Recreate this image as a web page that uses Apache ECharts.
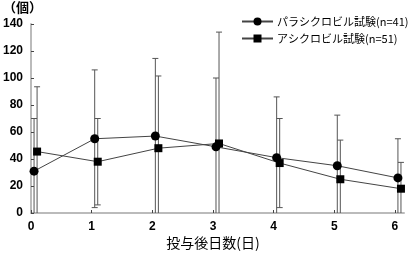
<!DOCTYPE html>
<html>
<head>
<meta charset="utf-8">
<script src="https://cdn.jsdelivr.net/npm/echarts@6/dist/echarts.min.js"></script>
<style>html,body{margin:0;padding:0;background:#fff}#c{width:410px;height:254px}</style>
</head>
<body>
<div id="c"></div>
<script>
var days = [0, 1, 2, 3, 4, 5, 6];
var xTickLabels = ['0', '1', '2', '3', '4', '5', '6'];
var yTickLabels = ['0', '20', '40', '60', '80', '100', '120', '140'];
var seriesNames = ['パラシクロビル試験(n=41)', 'アシクロビル試験(n=51)'];
var paraMean = [31, 55, 57, 49, 41, 35, 26];
var paraSD = [39, 51, 57.5, 51, 45, 37.5, 29];
var acvMean = [45.5, 38, 48, 51.5, 37, 25, 18];
var acvSD = [48, 32, 53.5, 82.5, 33, 29, 19.5];

var OFF_PARA = 0.05, OFF_ACV = 0.1;

function pts(mean, off) {
  return days.map(function (d, i) { return [d + off, mean[i]]; });
}
function errData(mean, sd, off) {
  return days.map(function (d, i) { return [d + off, mean[i], sd[i]]; });
}
function errRender(color) {
  return function (params, api) {
    var x = api.value(0), m = api.value(1), s = api.value(2);
    var hi = m + s, lo = Math.max(m - s, 0);
    var pHi = api.coord([x, hi]), pLo = api.coord([x, lo]);
    var half = 3;
    var children = [
      { type: 'line', shape: { x1: pHi[0], y1: pHi[1], x2: pLo[0], y2: pLo[1] }, style: { stroke: color, lineWidth: 1 } },
      { type: 'line', shape: { x1: pHi[0] - half, y1: pHi[1], x2: pHi[0] + half, y2: pHi[1] }, style: { stroke: color, lineWidth: 1 } }
    ];
    if (m - s > 0) {
      children.push({ type: 'line', shape: { x1: pLo[0] - half, y1: pLo[1], x2: pLo[0] + half, y2: pLo[1] }, style: { stroke: color, lineWidth: 1 } });
    }
    return { type: 'group', children: children };
  };
}

var chart = echarts.init(document.getElementById('c'), null, { renderer: 'canvas' });
chart.setOption({
  animation: false,
  backgroundColor: '#fff',
  grid: { left: 29, right: 6, top: 24, bottom: 41, containLabel: false },
  xAxis: {
    type: 'value', min: 0, max: 6.15, interval: 1,
    axisLine: { show: true, lineStyle: { color: '#bbb', width: 2 } },
    axisTick: { show: true, inside: true, length: 3, lineStyle: { color: '#444' } },
    axisLabel: {
      margin: 8, color: '#000', fontSize: 12, fontWeight: 'bold', fontFamily: 'Liberation Sans',
      showMaxLabel: false,
      formatter: function (v) { var i = days.indexOf(Math.round(v)); return Math.abs(v - Math.round(v)) < 1e-6 && i >= 0 ? xTickLabels[i] : ''; }
    },
    splitLine: { show: false }
  },
  yAxis: {
    type: 'value', min: 0, max: 140, interval: 20,
    axisLine: { show: true, lineStyle: { color: '#bbb', width: 2 } },
    axisTick: { show: true, inside: true, length: 3, lineStyle: { color: '#444' } },
    axisLabel: {
      margin: 8, color: '#000', fontSize: 12, fontWeight: 'bold', fontFamily: 'Liberation Sans',
      formatter: function (v) { return yTickLabels[Math.round(v / 20)]; }
    },
    splitLine: { show: false }
  },
  legend: {
    orient: 'vertical', left: 236, top: 11, itemWidth: 31, itemHeight: 10, itemGap: 6,
    data: seriesNames,
    textStyle: { fontSize: 11, color: '#000', fontFamily: 'Noto Sans CJK JP', padding: [0, 0, 0, -1] }
  },
  graphic: [
    { type: 'text', left: 3, top: 1, style: { text: '（個）', fontSize: 13, fontWeight: 'bold', fill: '#000', fontFamily: 'Noto Sans CJK JP' } },
    { type: 'text', x: 213, y: 243, style: { text: '投与後日数(日)', fontSize: 14, fill: '#000', fontFamily: 'Noto Sans CJK JP', align: 'center', verticalAlign: 'middle' } }
  ],
  series: [
    { type: 'custom', name: 'errPara', renderItem: errRender('#555'), data: errData(paraMean, paraSD, OFF_PARA), z: 1, silent: true },
    { type: 'custom', name: 'errAcv', renderItem: errRender('#555'), data: errData(acvMean, acvSD, OFF_ACV), z: 1, silent: true },
    {
      type: 'line', name: seriesNames[0], data: pts(paraMean, OFF_PARA),
      symbol: 'circle', symbolSize: 9,
      lineStyle: { color: '#444', width: 1 }, itemStyle: { color: '#000', borderWidth: 0 }, z: 3
    },
    {
      type: 'line', name: seriesNames[1], data: pts(acvMean, OFF_ACV),
      symbol: 'rect', symbolSize: 8,
      lineStyle: { color: '#444', width: 1 }, itemStyle: { color: '#000', borderWidth: 0 }, z: 3
    }
  ]
});
</script>
</body>
</html>
